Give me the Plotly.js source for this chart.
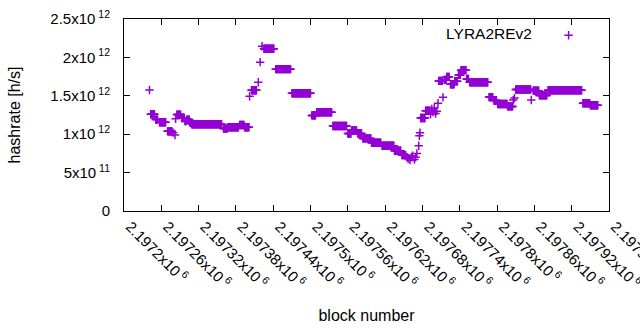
<!DOCTYPE html>
<html>
<head>
<meta charset="utf-8">
<script src="https://cdn.plot.ly/plotly-3.0.1.min.js"></script>
<style>
  html, body { margin: 0; padding: 0; background: #fff; }
  #chart { width: 640px; height: 330px; }
</style>
</head>
<body>
<div id="chart"></div>
<script>
// Data: runs of blocks with a constant hashrate [h/s]
const runStart = [
  2197241, 2197243, 2197251, 2197257, 2197270, 2197279, 2197282, 2197283, 2197285, 2197293,
  2197298, 2197301, 2197306, 2197309, 2197360, 2197367, 2197386, 2197394, 2197402, 2197405,
  2197416, 2197419, 2197422, 2197425, 2197444, 2197470, 2197502, 2197510, 2197536, 2197560,
  2197566, 2197576, 2197584, 2197598, 2197615, 2197635, 2197647, 2197655, 2197657, 2197660,
  2197662, 2197664, 2197667, 2197669, 2197671, 2197674, 2197675, 2197676, 2197677, 2197685,
  2197693, 2197695, 2197697, 2197699, 2197701, 2197703, 2197705, 2197706, 2197713, 2197715,
  2197719, 2197725, 2197732, 2197738, 2197742, 2197751, 2197756, 2197787, 2197795, 2197801,
  2197817, 2197826, 2197828, 2197830, 2197855, 2197858, 2197868, 2197882, 2197938, 2197950
];
const runEnd = [
  2197241, 2197249, 2197254, 2197267, 2197277, 2197279, 2197282, 2197283, 2197291, 2197297,
  2197300, 2197305, 2197308, 2197357, 2197366, 2197384, 2197393, 2197401, 2197402, 2197413,
  2197416, 2197419, 2197422, 2197441, 2197468, 2197500, 2197508, 2197534, 2197558, 2197565,
  2197574, 2197582, 2197597, 2197613, 2197634, 2197645, 2197653, 2197655, 2197657, 2197660,
  2197662, 2197664, 2197667, 2197669, 2197671, 2197674, 2197675, 2197676, 2197684, 2197692,
  2197693, 2197695, 2197697, 2197699, 2197701, 2197703, 2197705, 2197712, 2197713, 2197718,
  2197723, 2197731, 2197736, 2197741, 2197750, 2197754, 2197785, 2197793, 2197799, 2197816,
  2197825, 2197826, 2197828, 2197854, 2197855, 2197867, 2197880, 2197936, 2197949, 2197962
];
const runValue = [
  1.576e12, 1.26e12, 1.19e12, 1.155e12, 1.037e12, 1.02e12, 0.99e12, 1.2e12, 1.255e12, 1.21e12,
  1.17e12, 1.19e12, 1.15e12, 1.13e12, 1.075e12, 1.09e12, 1.12e12, 1.09e12, 1.495e12, 1.573e12,
  1.677e12, 1.938e12, 2.145e12, 2.112e12, 1.847e12, 1.533e12, 1.245e12, 1.285e12, 1.106e12, 1.01e12,
  1.05e12, 1.01e12, 0.945e12, 0.888e12, 0.849e12, 0.784e12, 0.728e12, 0.70e12, 0.68e12, 0.662e12,
  0.70e12, 0.72e12, 0.67e12, 0.70e12, 0.75e12, 0.85e12, 0.98e12, 1.02e12, 1.21e12, 1.306e12,
  1.26e12, 1.33e12, 1.29e12, 1.34e12, 1.27e12, 1.30e12, 1.403e12, 1.694e12, 1.48e12, 1.707e12,
  1.746e12, 1.65e12, 1.69e12, 1.772e12, 1.834e12, 1.72e12, 1.677e12, 1.483e12, 1.44e12, 1.394e12,
  1.362e12, 1.446e12, 1.47e12, 1.582e12, 1.446e12, 1.567e12, 1.505e12, 1.572e12, 1.403e12, 1.377e12
];

const seriesName = 'LYRA2REv2';

const xTickVals = [2197200, 2197260, 2197320, 2197380, 2197440, 2197500, 2197560,
                   2197620, 2197680, 2197740, 2197800, 2197860, 2197920, 2197980];
const xTickLabels = ['2.1972', '2.19726', '2.19732', '2.19738', '2.19744', '2.1975', '2.19756',
                     '2.19762', '2.19768', '2.19774', '2.1978', '2.19786', '2.19792', '2.19798'];
const yTickVals = [0, 5e11, 1e12, 1.5e12, 2e12, 2.5e12];
const yTickLabels = ['0', '5x10<sup> 11</sup>', '1x10<sup> 12</sup>', '1.5x10<sup> 12</sup>',
                     '2x10<sup> 12</sup>', '2.5x10<sup> 12</sup>'];

// one point per block inside each constant run
const blocks = [];
const hashrate = [];
for (let i = 0; i < runStart.length; i++) {
  for (let b = runStart[i]; b <= runEnd[i]; b++) {
    blocks.push(b);
    hashrate.push(runValue[i]);
  }
}

const FONT = 'Liberation Sans, Arial, sans-serif';
const COLOR = '#9400d3';

const trace = {
  type: 'scatter',
  mode: 'markers',
  x: blocks,
  y: hashrate,
  name: ' ',
  marker: {
    symbol: 'cross-thin-open',
    size: 6,
    color: COLOR,
    line: { color: COLOR, width: 1.5 }
  },
  hoverinfo: 'x+y'
};

const layout = {
  width: 640,
  height: 330,
  margin: { l: 124.3, r: 30.7, t: 19.3, b: 119.3, pad: 0 },
  paper_bgcolor: '#fff',
  plot_bgcolor: '#fff',
  font: { family: FONT, size: 15, color: '#000' },
  showlegend: true,
  legend: {
    x: 0.66, y: 1.0, xanchor: 'left', yanchor: 'top',
    bgcolor: 'rgba(0,0,0,0)',
    borderwidth: 0,
    title: { text: seriesName + '&nbsp;&nbsp;', side: 'left', font: { family: FONT, size: 15.5, color: '#000' } },
    font: { family: FONT, size: 15, color: '#000' },
    itemwidth: 30
  },
  xaxis: {
    range: [2197200, 2197980],
    tickmode: 'array',
    tickvals: xTickVals,
    ticktext: xTickLabels.map(s => s + 'x10<sup> 6</sup>'),
    tickangle: 45,
    ticks: 'inside',
    ticklen: 6,
    tickcolor: '#000',
    showline: true,
    linecolor: '#000',
    linewidth: 1,
    mirror: 'ticks',
    showgrid: false,
    zeroline: false,
    tickfont: { family: FONT, size: 15, color: '#000' },
    ticklabelstandoff: 0,
    ticklabelshift: 6,
    ticklabeloverflow: 'allow',
    title: { text: 'block number', font: { family: FONT, size: 16, color: '#000' }, standoff: 19 }
  },
  yaxis: {
    range: [0, 2.5e12],
    tickmode: 'array',
    tickvals: yTickVals,
    ticktext: yTickLabels,
    ticks: 'inside',
    ticklen: 6,
    tickcolor: '#000',
    showline: true,
    linecolor: '#000',
    linewidth: 1,
    mirror: 'ticks',
    showgrid: false,
    zeroline: false,
    tickfont: { family: FONT, size: 15, color: '#000' },
    ticklabelstandoff: 10,
    title: { text: 'hashrate [h/s]', font: { family: FONT, size: 16, color: '#000' }, standoff: 25 }
  }
};

Plotly.newPlot('chart', [trace], layout, { staticPlot: true, displayModeBar: false });
</script>
</body>
</html>
